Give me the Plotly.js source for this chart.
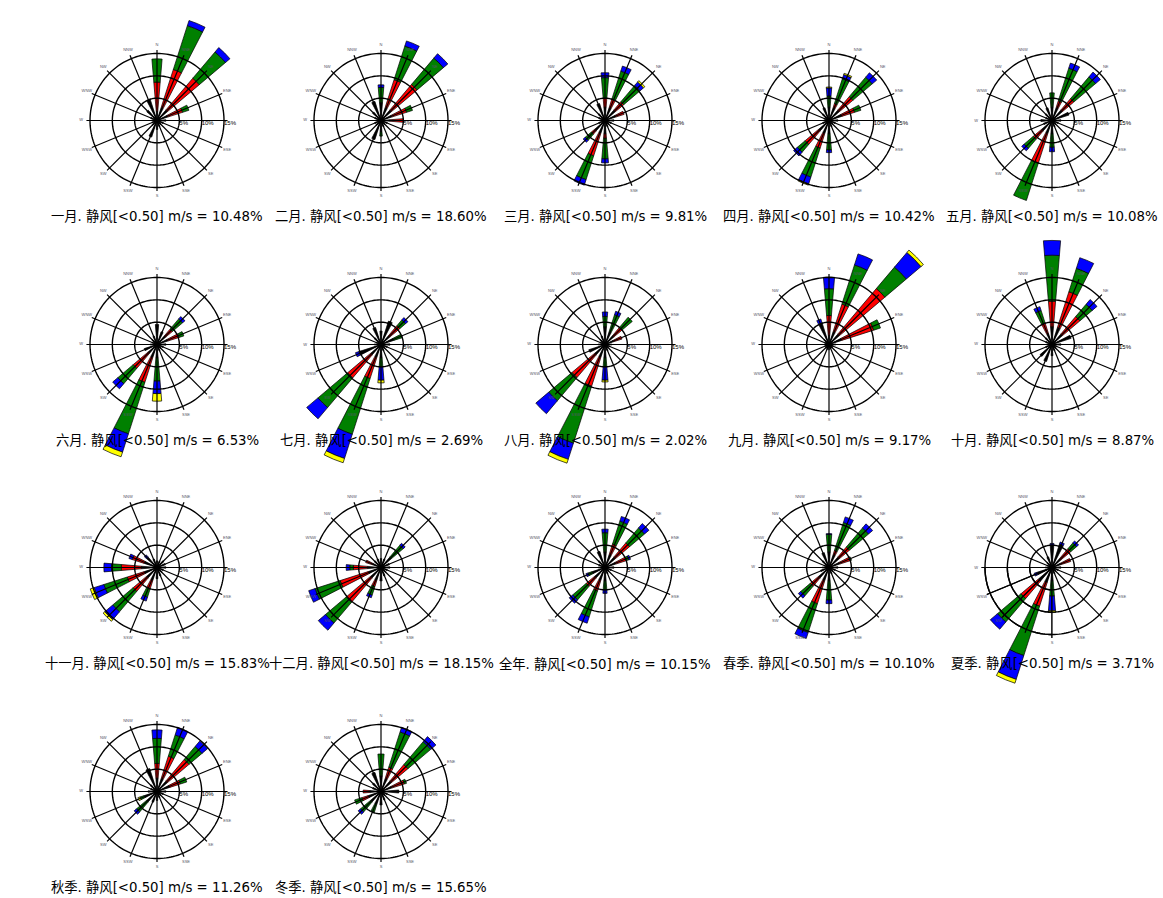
<!DOCTYPE html>
<html><head><meta charset="utf-8">
<script src="https://cdn.plot.ly/plotly-3.0.1.min.js"></script>
<style>html,body{margin:0;padding:0;background:#fff}</style>
</head><body><div id="chart" style="width:1163px;height:898px"></div>
<script>
const directions = ['N','NNE','NE','ENE','E','ESE','SE','SSE','S','SSW','SW','WSW','W','WNW','NW','NNW'];
const directionAngles = [0,22.5,45,67.5,90,112.5,135,157.5,180,202.5,225,247.5,270,292.5,315,337.5];
const speedClasses = ['class1','class2','class3','class4','class5'];
const classColors = ['#000000','#ff0000','#008000','#0000ff','#ffff00'];
const chartTitles = ['一月','二月','三月','四月','五月','六月','七月','八月','九月','十月','十一月','十二月','全年','春季','夏季','秋季','冬季'];
const calmPct = [10.48,18.60,9.81,10.42,10.08,6.53,2.69,2.02,9.17,8.87,15.83,18.15,10.15,10.10,3.71,11.26,15.65];
const ringValues = [5,10,15];
const ringLabels = ['5%','10%','15%'];

// each rose: rows = speed classes (black, red, green, blue, yellow), cols = 16 directions (segment sizes, %)
const jan = [
 [2,3,3,2.5,2,1.5,1.2,1.5,2,3.9,1.5,1.2,1.2,1.5,3,5],
 [6.6,9,9.4,3.5,0,0,0,0,0,0,0,0,0,0,0,0],
 [5.2,10.3,7.7,1.5,0,0,0,0,0,0,0,0,0,0,0,0],
 [0,1.2,1.3,0,0,0,0,0,0,0,0,0,0,0,0,0],
 [0,0,0,0,0,0,0,0,0,0,0,0,0,0,0,0]];
const feb = [
 [4,3,3,2.5,2,1.5,1.2,1.5,2.5,4.5,1.5,1.5,1.2,1.5,2.5,4.5],
 [0,6.6,7.6,3.5,3,0,0,0,0,0,0,0,0,0,0,0],
 [3.4,7.9,7.7,1.4,0,0,0,0,1,0,0,0,0,0,0,0],
 [0.6,1.2,1.3,0,0,0,0,0,0,0,0,0,0,0,0,0],
 [0,0,0,0,0,0,0,0,0,0,0,0,0,0,0,0]];
const mar = [
 [3,3,3,2.5,2,1.5,1.2,1.5,3,3,3,1.5,1.2,1.5,2,4],
 [2,2,2.5,2,0,0,0,0,1,5.3,1,0,0,0,0,0],
 [4.6,6.6,4.8,0,0,0,0,0,4.6,5.6,1.8,0,0,0,0,0],
 [1.1,1.2,1,0,0,0,0,0,0.9,1.3,0.6,0,0,0,0,0],
 [0,0,0.4,0,0,0,0,0,0,0,0,0,0,0,0,0]];
const apr = [
 [3,3,3,3,2,1.5,1.2,1.5,3,3,3,1.5,1.2,1.2,2,3],
 [0,1,4,3,0,0,0,0,0,3.5,4,0,0,0,0,0],
 [2.5,5.8,5.7,1.5,0,0,0,0,3.6,6.8,2.3,0,0,0,0,0],
 [1.8,1,1.3,0,0,0,0,0,0.6,1.6,1.1,0,0,0,0,0],
 [0.2,0.3,0,0,0,0,0,0,0,0.3,0,0,0,0,0,0]];
const may = [
 [3,3,3,4,2,1.5,1.2,1.5,3,3,3,2,2.5,1.5,2,3],
 [0,1.6,3.4,0,0,0,0,0,0,7,2.5,0,0,0,0,0],
 [3.2,7.7,6.4,0,0,0,0,0,3,8.8,2.7,0,0,0,0,0],
 [0,1.2,1.4,0,0,0,0,0,1,0,0.7,0,0,0,0,0],
 [0,0,0,0,0,0,0,0,0,0,0,0,0,0,0,0]];
const jun = [
 [4.5,3,2.5,2.5,2,1.5,1.2,1.5,3,3,2.5,3,1.5,1.2,1.5,2],
 [0,0,2,2.7,0,0,0,0,0,5.9,4.5,0,0,0,0,0],
 [0,0,3,1.1,0,0,0,0,5.2,12.1,4.5,0,0,0,0,0],
 [0,0,0.7,0,0,0,0,0,2.8,4.3,1.5,0,0,0,0,0],
 [0,0,0,0,0,0,0,0,1.7,1.1,0,0,0,0,0,0]];
const jul = [
 [3,5.5,2.5,3,2,1.5,1.2,1.5,3,3,3,5.2,1.5,1.2,2,4],
 [0,0,3,0,0,0,0,0,0,5,6.8,0,0,0,0,0],
 [0,0,1.7,2,0,0,0,0,2,13.1,8.7,0,0,0,0,0],
 [0,0,0.7,0,0,0,0,0,3,5.7,3.3,0.8,0,0,0,0],
 [0,0,0,0,0,0,0,0,0.6,1,0,0,0,0,0,0]];
const aug = [
 [4,3,2.5,2,1.5,1.2,1,1.5,3,3,3,3.8,1.5,1.2,1.5,2],
 [0,0,2.5,2,0,0,0,0,0,6.8,6.7,0,0,0,0,0],
 [2.3,4,3,0,0,0,0,0,2,13.4,6.8,0,0,0,0,0],
 [1,0.8,0,0,0,0,0,0,3,3.8,3.8,0,0,0,0,0],
 [0,0,0,0,0,0,0,0,0.4,0.9,0,0,0,0,0,0]];
const sep = [
 [2,3,3,3,1.5,1,1,1,1.2,1.2,1,1,1,1,1.5,5],
 [4.5,6.5,13.4,7.5,0,0,0,0,0,0,0,0,0,0,0,0],
 [6,9.2,6.3,1.6,0,0,0,0,0,0,0,0,0,0,0,0],
 [2.6,2.6,4.3,0,0,0,0,0,0,0,0,0,0,0,0,1],
 [0,0,0.7,0,0,0,0,0,0,0,0,0,0,0,0,0]];
const oct = [
 [4,4,3,4.5,2,1.2,1.2,1.5,2.5,4,3.5,1.5,1.2,1.5,2,2.5],
 [5.7,8.4,5.2,0,0,0,0,0,0,0,0,0,0,0,0,2.5],
 [10.3,5.5,3.6,0,0,0,0,0,0,0,0,0,0,0,0,3],
 [3.3,2.5,1.4,0,0,0,0,0,0,0,0,0,0,0,0,0.9],
 [0,0,0,0,0,0,0,0,0,0,0,0,0,0,0,0]];
const nov = [
 [1.5,1.5,2,2,2,1.5,1.5,2,2.5,3,3,3,3.5,3,3,2],
 [0,0,0,0,0,0,0,0,0,2,4,4,4.5,2.8,0,0],
 [0,0,0,0,0,0,0,0,0,2,6,5.5,2.2,0,0,0],
 [0,0,0,0,0,0,0,0,0,0.9,2.3,2.3,1.7,0.8,0.7,0],
 [0,0,0,0,0,0,0,0,0,0,0.5,0.9,0,0,0,0]];
const dec = [
 [2,2,3,2,2,1.5,1.5,2,3,3,3,3,3,2,2,2],
 [0,0,0,0,0,0,0,0,0,1.5,7.2,6.6,3.2,1.6,0,0],
 [0,0,3.5,0,0,0,0,0,0,2,6.1,5.9,0.8,0,0,0],
 [0,0,0.6,0,0,0,0,0,0,0.6,2.1,1.5,0.8,0,0,0],
 [0,0,0,0,0,0,0,0,0,0,0,0,0,0,0,0]];
const annual = [
 [3.5,3,3,2.5,2,1.5,1.2,1.5,3,3,3,3,1.5,1.5,2,3.8],
 [0,2.5,4.2,2.5,0,0,0,0,0,2.5,2.5,0,0,0,0,0],
 [4.3,5.4,4.4,0.6,0,0,0,0,2,6.1,4,1,0,0,0,0],
 [0.8,1.1,1.3,0.4,0,0,0,0,0.8,1.5,1,0.5,0,0,0,0],
 [0,0,0,0,0,0,0,0,0,0,0,0,0,0,0,0]];
const spring = [
 [3.5,3,3,2.5,2,1.5,1.2,1.5,3,3,3,2,1.5,1.2,2,3.5],
 [0,1,3,2.5,0,0,0,0,0,5.5,2.5,0,0,0,0,0],
 [3.9,6.6,5.6,0.3,0,0,0,0,4.3,6.8,2.8,0,0,0,0,0],
 [0.2,1.3,1.2,0,0,0,0,0,0.8,1.4,0.7,0,0,0,0,0],
 [0,0,0,0,0,0,0,0,0,0,0,0,0,0,0,0]];
const summer = [
 [5,5.5,2.5,2,2,1.5,1.2,1.5,3,3.5,4,3.5,1.5,1.2,1.5,2.5],
 [0,0,3,2.4,0,0,0,0,0,5.6,5.1,0,0,0,0,0],
 [0,0,1.7,0,0,0,0,0,3.4,11.6,6.9,0,0,0,0,0],
 [0.4,0.5,0.6,0,0,0,0,0,3.3,5.6,2.1,0.7,0,0,0,0],
 [0,0,0,0,0,0,0,0,0.4,0.9,0,0,0,0,0,0]];
const autumn = [
 [3,3,3,3,2,1.5,1.2,1.5,2,2.5,3,3,2,1.5,2,5.4],
 [3.3,5.3,6.4,2.5,0,0,0,0,0,0,0,0,0,0,0,0],
 [5.6,5,3.8,1.5,0,0,0,0,0,0,3,1,0,0,0,0],
 [1.9,1.8,1.6,0,0,0,0,0,0,0,0.7,0,0,0,0,0],
 [0,0,0,0,0,0,0,0,0,0,0,0.5,0,0,0,0]];
const winter = [
 [3.5,3,3,2.5,4,1.5,1.2,2,3,3,3,3,2.5,2,2.5,4.5],
 [0,2.7,4.9,3,0,0,0,0,0,0,0,1.5,1.5,0,0,0],
 [4.9,8.3,6.7,0.5,0,0,0,0,0,1.9,3,1.7,0,0,0,0],
 [0,1.1,1.5,0,0,0,0,0,0,0,0.7,0,0,0,0,0],
 [0,0,0,0,0,0,0,0,0,0,0,0,0,0,0,0]];

const roses = [jan,feb,mar,apr,may,jun,jul,aug,sep,oct,nov,dec,annual,spring,summer,autumn,winter];

const W = 1163, H = 898;
const colCenters = [157, 381, 605, 829, 1052];
const rowCenters = [120.5, 344.5, 567.5, 791.5];
const R15 = 67;          // pixel radius of the 15% circle
const labelOffset = 96;  // label centre below rose centre
const spokeEnd = 15.8;
const dirLabelR = 17.0;

const traces = [];
const layout = {
  width: W, height: H, margin: {l:0,r:0,t:0,b:0},
  paper_bgcolor: '#fff', showlegend: false, annotations: []
};
let subplotCount = 0;

function paperDomain(x0, x1, y0, y1) {
  return {x: [Math.max(0, x0 / W), Math.min(1, x1 / W)], y: [Math.max(0, 1 - y1 / H), Math.min(1, 1 - y0 / H)]};
}

function addPolar(domain, sector, range, rose, dirMask, withLabels) {
  subplotCount++;
  const id = subplotCount === 1 ? 'polar' : 'polar' + subplotCount;
  layout[id] = {
    domain: domain, sector: sector, bgcolor: 'rgba(0,0,0,0)', barmode: 'stack',
    radialaxis: {range: [0, range], visible: false, showgrid: false},
    angularaxis: {rotation: 90, direction: 'clockwise', showgrid: false, showline: false,
                  showticklabels: false, ticks: ''}
  };
  speedClasses.forEach((name, k) => {
    traces.push({type: 'barpolar', subplot: id, name: name,
      r: rose[k].map((v, d) => dirMask[d] ? v : 0), theta: directionAngles,
      width: 9.5, marker: {color: classColors[k], line: {color: '#000', width: 0.7}},
      hoverinfo: 'skip'});
  });
  const ringTheta = [], ringR = [];
  ringValues.forEach(v => {
    for (let a = 0; a <= 360; a += 2) { ringTheta.push(a); ringR.push(v); }
    ringTheta.push(null); ringR.push(null);
  });
  traces.push({type: 'scatterpolar', subplot: id, mode: 'lines', r: ringR, theta: ringTheta,
    line: {color: '#000', width: 1.4}, hoverinfo: 'skip'});
  const spokeTheta = [], spokeR = [];
  directionAngles.forEach(a => { spokeTheta.push(a, a, null); spokeR.push(0, spokeEnd, null); });
  traces.push({type: 'scatterpolar', subplot: id, mode: 'lines', r: spokeR, theta: spokeTheta,
    line: {color: '#000', width: 1.2}, hoverinfo: 'skip'});
  if (withLabels) {
    traces.push({type: 'scatterpolar', subplot: id, mode: 'text', r: ringValues, theta: [90,90,90],
      text: ringLabels, textposition: 'bottom right',
      textfont: {size: 6, color: '#000', family: 'Liberation Sans'}, hoverinfo: 'skip'});
    traces.push({type: 'scatterpolar', subplot: id, mode: 'text',
      r: directionAngles.map(() => dirLabelR), theta: directionAngles,
      text: directions.map(d => d === 'E' ? '' : d), textposition: 'middle center',
      textfont: {size: 4, color: '#556', family: 'Liberation Sans'}, hoverinfo: 'skip'});
  }
}

roses.forEach((rose, i) => {
  const cx = colCenters[i % 5], cy = rowCenters[Math.floor(i / 5)];
  const totals = directionAngles.map((_, d) => rose.reduce((s, row) => s + row[d], 0));
  const need = Math.max(18, Math.max(...totals) + 0.8);
  const fit = 15 / R15 * Math.min(cx, W - cx, cy, H - cy) - 0.2;
  const mainRange = Math.min(need, fit);
  const inMain = totals.map(t => t <= mainRange - 0.3);
  const rp = R15 * mainRange / 15;
  addPolar(paperDomain(cx - rp, cx + rp, cy - rp, cy + rp), [0, 360], mainRange, rose, inMain, true);
  // directions too long for the main circle: drawn in a quarter-sector subplot sharing the centre
  const quads = {};
  totals.forEach((t, d) => {
    if (!inMain[d]) {
      const m = ((90 - directionAngles[d]) % 360 + 360) % 360;
      const q = Math.floor(m / 90);
      (quads[q] = quads[q] || []).push(d);
    }
  });
  Object.keys(quads).forEach(qs => {
    const q = +qs;
    const mask = directionAngles.map((_, d) => quads[q].includes(d));
    const rq = R15 * need / 15;
    const x0 = (q === 0 || q === 3) ? cx : cx - rq, x1 = x0 + rq;
    const y0 = (q === 0 || q === 1) ? cy - rq : cy, y1 = y0 + rq;
    addPolar(paperDomain(x0, x1, y0, y1), [q * 90, q * 90 + 90], need, rose, mask, false);
  });
  layout.annotations.push({xref: 'paper', yref: 'paper', x: cx / W, y: 1 - (cy + labelOffset) / H,
    xanchor: 'center', yanchor: 'middle', showarrow: false,
    text: chartTitles[i] + '. 静风[<0.50] m/s = ' + calmPct[i].toFixed(2) + '%',
    font: {size: 13.3, color: '#000', family: 'DejaVu Sans, Noto Sans CJK SC'}});
});

Plotly.newPlot('chart', traces, layout, {displayModeBar: false, staticPlot: true});
</script></body></html>
